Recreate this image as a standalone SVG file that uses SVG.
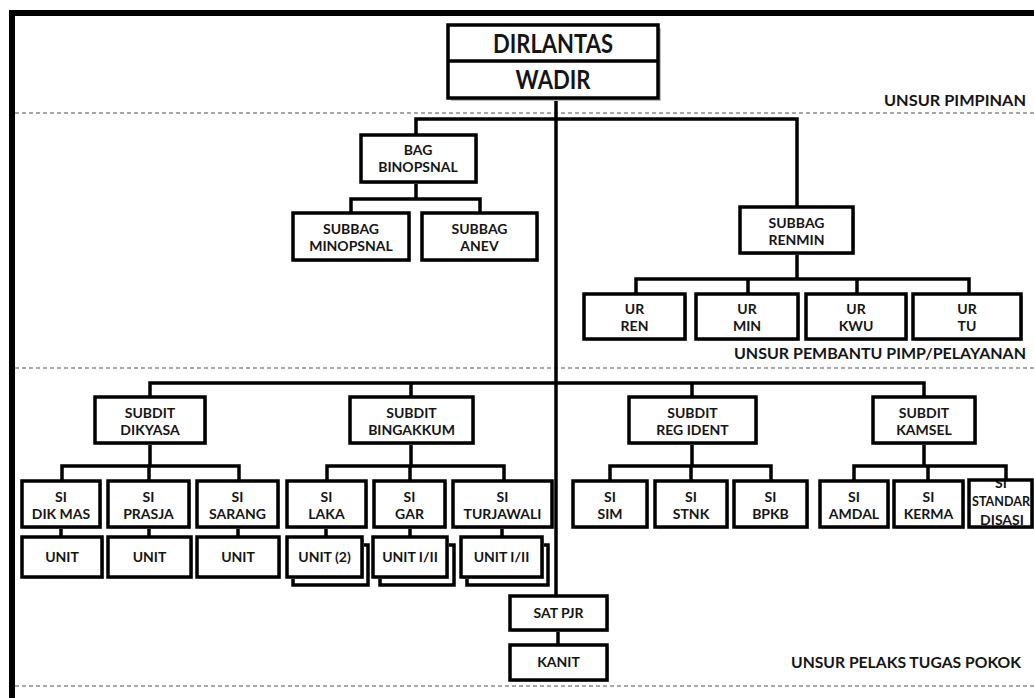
<svg xmlns="http://www.w3.org/2000/svg" width="1034" height="698" viewBox="0 0 1034 698">
<style>
.box{fill:#fff;stroke:#000;stroke-width:3.5}
.sh{fill:#bdbdbd}
.ln{stroke:#000;stroke-width:3.5;fill:none}
.dash{stroke:#8a8a8a;stroke-width:1.5;stroke-dasharray:4 3;fill:none}
.t{font-family:Lato,"Liberation Sans",sans-serif;font-weight:700;font-size:14px;text-anchor:middle;fill:#151515}
.big{font-size:26px}
.lab{font-size:16px;text-anchor:end}
</style>
<defs>
<clipPath id="clipStd"><rect x="970" y="481" width="61" height="45"/></clipPath>
</defs>
<rect x="0" y="0" width="1034" height="698" fill="#fff"/>
<g id="frame">
<line x1="9" y1="13" x2="1034" y2="13" stroke="#000" stroke-width="6"/>
<line x1="12" y1="10" x2="12" y2="698" stroke="#000" stroke-width="6"/>
<line class="dash" x1="15" y1="113" x2="1034" y2="113"/>
<line class="dash" x1="15" y1="368" x2="1034" y2="368"/>
<line class="dash" x1="15" y1="686" x2="1034" y2="686"/>
<text class="t lab" x="1026" y="106" textLength="142" lengthAdjust="spacingAndGlyphs">UNSUR PIMPINAN</text>
<text class="t lab" x="1026" y="359" textLength="292" lengthAdjust="spacingAndGlyphs">UNSUR PEMBANTU PIMP/PELAYANAN</text>
<text class="t lab" x="1021" y="668" textLength="230" lengthAdjust="spacingAndGlyphs">UNSUR PELAKS TUGAS POKOK</text>
</g>
<g id="connectors">
<path class="ln" d="M556 98V596"/>
<path class="ln" d="M416 135V119H797V207"/>
<path class="ln" d="M416 182V199M351 213V199H480V213"/>
<path class="ln" d="M797 253V279M636 294V279H969V294M748 279V294M857 279V294"/>
<path class="ln" d="M150 397V383H924V397M411 383V397M692 383V397"/>
<path class="ln" d="M150 443V466M62 481V466H239V481M149 466V481"/>
<path class="ln" d="M411 443V466M327 481V466H504V481M410 466V481"/>
<path class="ln" d="M692 443V466M610 481V466H771V481M691 466V481"/>
<path class="ln" d="M924 443V466M854 481V466H1006V481M928 466V481"/>
<path class="ln" d="M61 527V537M149 527V537M238 527V537M326 527V537M410 527V537M502 527V537"/>
<path class="ln" d="M558 630V645"/>
</g>
<g id="n-dirlantas">
<rect class="sh" x="451" y="28" width="210" height="73"/>
<rect class="box" x="448" y="25" width="210" height="73"/>
<line class="ln" x1="448" y1="61" x2="658" y2="61"/>
<text class="t big" x="553" y="53" textLength="120" lengthAdjust="spacingAndGlyphs">DIRLANTAS</text>
<text class="t big" x="553" y="89" textLength="75" lengthAdjust="spacingAndGlyphs">WADIR</text>
</g>
<g id="n-bag-binopsnal">
<rect class="sh" x="363" y="137" width="115" height="47"/>
<rect class="box" x="361" y="135" width="115" height="47"/>
<text class="t" x="418" y="155">BAG</text><text class="t" x="418" y="172">BINOPSNAL</text>
</g>
<g id="n-subbag-minopsnal">
<rect class="sh" x="295" y="215" width="116" height="47"/>
<rect class="box" x="293" y="213" width="116" height="47"/>
<text class="t" x="351" y="234">SUBBAG</text><text class="t" x="351" y="251">MINOPSNAL</text>
</g>
<g id="n-subbag-anev">
<rect class="sh" x="424" y="215" width="115" height="47"/>
<rect class="box" x="422" y="213" width="115" height="47"/>
<text class="t" x="479.5" y="234">SUBBAG</text><text class="t" x="479.5" y="251">ANEV</text>
</g>
<g id="n-subbag-renmin">
<rect class="sh" x="742" y="209" width="113" height="46"/>
<rect class="box" x="740" y="207" width="113" height="46"/>
<text class="t" x="796.5" y="228">SUBBAG</text><text class="t" x="796.5" y="245">RENMIN</text>
</g>
<g id="n-ur-ren">
<rect class="sh" x="586" y="296" width="101" height="45"/>
<rect class="box" x="584" y="294" width="101" height="45"/>
<text class="t" x="634.5" y="314">UR</text><text class="t" x="634.5" y="331">REN</text>
</g>
<g id="n-ur-min">
<rect class="sh" x="698" y="296" width="102" height="45"/>
<rect class="box" x="696" y="294" width="102" height="45"/>
<text class="t" x="747" y="314">UR</text><text class="t" x="747" y="331">MIN</text>
</g>
<g id="n-ur-kwu">
<rect class="sh" x="808" y="296" width="100" height="45"/>
<rect class="box" x="806" y="294" width="100" height="45"/>
<text class="t" x="856" y="314">UR</text><text class="t" x="856" y="331">KWU</text>
</g>
<g id="n-ur-tu">
<rect class="sh" x="915" y="296" width="108" height="45"/>
<rect class="box" x="913" y="294" width="108" height="45"/>
<text class="t" x="967" y="314">UR</text><text class="t" x="967" y="331">TU</text>
</g>
<g id="n-subdit-dikyasa">
<rect class="sh" x="97" y="399" width="110" height="46"/>
<rect class="box" x="95" y="397" width="110" height="46"/>
<text class="t" x="150" y="418">SUBDIT</text><text class="t" x="150" y="435">DIKYASA</text>
</g>
<g id="n-subdit-bingakkum">
<rect class="sh" x="352" y="399" width="123" height="46"/>
<rect class="box" x="350" y="397" width="123" height="46"/>
<text class="t" x="411.5" y="418">SUBDIT</text><text class="t" x="411.5" y="435">BINGAKKUM</text>
</g>
<g id="n-subdit-regident">
<rect class="sh" x="631" y="399" width="127" height="46"/>
<rect class="box" x="629" y="397" width="127" height="46"/>
<text class="t" x="692.5" y="418">SUBDIT</text><text class="t" x="692.5" y="435">REG IDENT</text>
</g>
<g id="n-subdit-kamsel">
<rect class="sh" x="875" y="399" width="102" height="46"/>
<rect class="box" x="873" y="397" width="102" height="46"/>
<text class="t" x="924" y="418">SUBDIT</text><text class="t" x="924" y="435">KAMSEL</text>
</g>
<g id="n-si-dikmas">
<rect class="sh" x="24" y="483" width="78" height="46"/>
<rect class="box" x="22" y="481" width="78" height="46"/>
<text class="t" x="61" y="502">SI</text><text class="t" x="61" y="519">DIK MAS</text>
</g>
<g id="n-si-prasja">
<rect class="sh" x="110" y="483" width="81" height="46"/>
<rect class="box" x="108" y="481" width="81" height="46"/>
<text class="t" x="148.5" y="502">SI</text><text class="t" x="148.5" y="519">PRASJA</text>
</g>
<g id="n-si-sarang">
<rect class="sh" x="199" y="483" width="81" height="46"/>
<rect class="box" x="197" y="481" width="81" height="46"/>
<text class="t" x="237.5" y="502">SI</text><text class="t" x="237.5" y="519">SARANG</text>
</g>
<g id="n-si-laka">
<rect class="sh" x="289" y="483" width="79" height="46"/>
<rect class="box" x="287" y="481" width="79" height="46"/>
<text class="t" x="326.5" y="502">SI</text><text class="t" x="326.5" y="519">LAKA</text>
</g>
<g id="n-si-gar">
<rect class="sh" x="376" y="483" width="71" height="46"/>
<rect class="box" x="374" y="481" width="71" height="46"/>
<text class="t" x="409.5" y="502">SI</text><text class="t" x="409.5" y="519">GAR</text>
</g>
<g id="n-si-turjawali">
<rect class="sh" x="455" y="483" width="99" height="46"/>
<rect class="box" x="453" y="481" width="99" height="46"/>
<text class="t" x="502.5" y="502">SI</text><text class="t" x="502.5" y="519">TURJAWALI</text>
</g>
<g id="n-si-sim">
<rect class="sh" x="575" y="483" width="74" height="46"/>
<rect class="box" x="573" y="481" width="74" height="46"/>
<text class="t" x="610" y="502">SI</text><text class="t" x="610" y="519">SIM</text>
</g>
<g id="n-si-stnk">
<rect class="sh" x="657" y="483" width="72" height="46"/>
<rect class="box" x="655" y="481" width="72" height="46"/>
<text class="t" x="691" y="502">SI</text><text class="t" x="691" y="519">STNK</text>
</g>
<g id="n-si-bpkb">
<rect class="sh" x="736" y="483" width="73" height="46"/>
<rect class="box" x="734" y="481" width="73" height="46"/>
<text class="t" x="770.5" y="502">SI</text><text class="t" x="770.5" y="519">BPKB</text>
</g>
<g id="n-si-amdal">
<rect class="sh" x="822" y="483" width="68" height="46"/>
<rect class="box" x="820" y="481" width="68" height="46"/>
<text class="t" x="854" y="502">SI</text><text class="t" x="854" y="519">AMDAL</text>
</g>
<g id="n-si-kerma">
<rect class="sh" x="896" y="483" width="69" height="46"/>
<rect class="box" x="894" y="481" width="69" height="46"/>
<text class="t" x="928.5" y="502">SI</text><text class="t" x="928.5" y="519">KERMA</text>
</g>
<g id="n-si-standardisasi">
<rect class="sh" x="971" y="483" width="63" height="46"/>
<rect x="969" y="480" width="63" height="47" fill="#fff"/>
<g clip-path="url(#clipStd)">
<text class="t" x="1001" y="488">SI</text>
<text class="t" x="972" y="506" style="text-anchor:start" textLength="58" lengthAdjust="spacingAndGlyphs">STANDAR</text>
<text class="t" x="1002" y="525">DISASI</text>
</g>
<rect x="969" y="480" width="63" height="47" fill="none" stroke="#000" stroke-width="3.5"/>
</g>
<g id="n-unit-1">
<rect class="sh" x="24" y="539" width="80" height="40"/>
<rect class="box" x="22" y="537" width="80" height="40"/>
<text class="t" x="62" y="562">UNIT</text>
</g>
<g id="n-unit-2">
<rect class="sh" x="110" y="539" width="83" height="40"/>
<rect class="box" x="108" y="537" width="83" height="40"/>
<text class="t" x="149.5" y="562">UNIT</text>
</g>
<g id="n-unit-3">
<rect class="sh" x="199" y="539" width="82" height="40"/>
<rect class="box" x="197" y="537" width="82" height="40"/>
<text class="t" x="238" y="562">UNIT</text>
</g>
<g id="n-unit-laka">
<rect class="box" x="293" y="545" width="75" height="40"/>
<rect class="sh" x="289" y="539" width="75" height="40"/>
<rect class="box" x="287" y="537" width="75" height="40"/>
<text class="t" x="324.5" y="562">UNIT (2)</text>
</g>
<g id="n-unit-gar">
<rect class="box" x="380" y="545" width="74" height="40"/>
<rect class="sh" x="375" y="539" width="74" height="40"/>
<rect class="box" x="373" y="537" width="74" height="40"/>
<text class="t" x="410" y="562">UNIT I/II</text>
</g>
<g id="n-unit-turjawali">
<rect class="box" x="467" y="545" width="81" height="40"/>
<rect class="sh" x="463" y="539" width="81" height="40"/>
<rect class="box" x="461" y="537" width="81" height="40"/>
<text class="t" x="501.5" y="562">UNIT I/II</text>
</g>
<g id="n-sat-pjr">
<rect class="sh" x="512" y="598" width="97" height="34"/>
<rect class="box" x="510" y="596" width="97" height="34"/>
<text class="t" x="558.5" y="618">SAT PJR</text>
</g>
<g id="n-kanit">
<rect class="sh" x="512" y="647" width="97" height="35"/>
<rect class="box" x="510" y="645" width="97" height="35"/>
<text class="t" x="558.5" y="667">KANIT</text>
</g>
</svg>
